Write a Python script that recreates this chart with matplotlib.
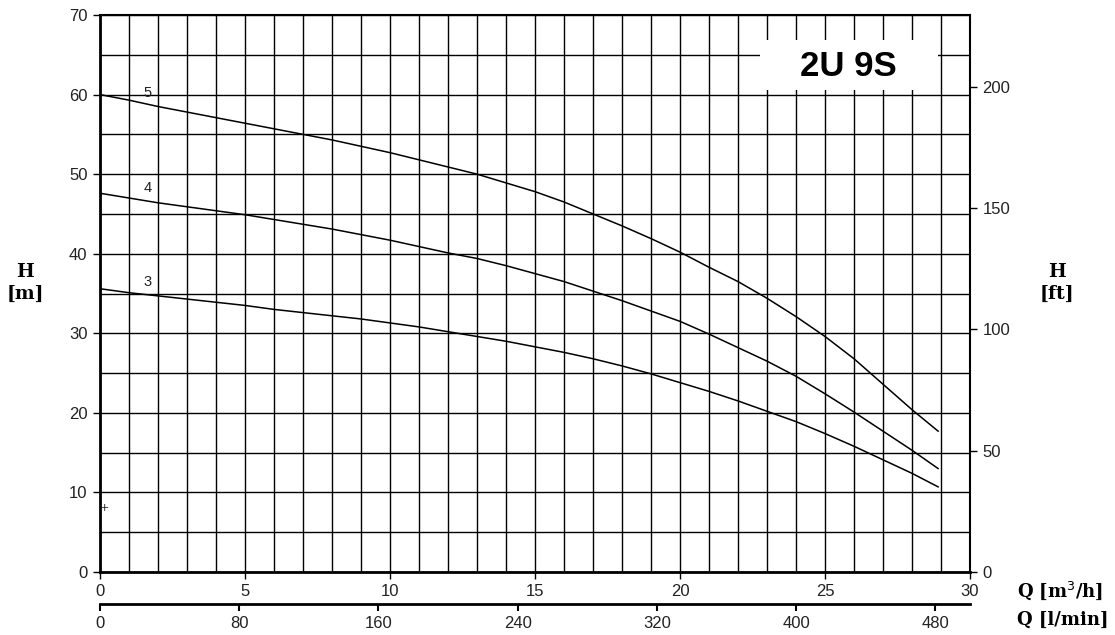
#!/usr/bin/env python3
"""Pump performance curves for 2U 9S (H vs Q), with ft and l/min axes."""

import matplotlib
matplotlib.use('Agg')
import matplotlib.pyplot as plt
from matplotlib.patches import Rectangle
from matplotlib.ticker import MultipleLocator

# Curve data: Q [m3/h], H [m]
q = list(range(29)) + [28.9]
h5 = [60.0, 59.3, 58.5, 57.8, 57.1, 56.4, 55.7, 55.0, 54.3, 53.5,
      52.7, 51.8, 50.9, 50.0, 48.9, 47.8, 46.5, 45.0, 43.5, 41.9,
      40.2, 38.3, 36.5, 34.4, 32.1, 29.6, 26.8, 23.6, 20.4, 17.7]
h4 = [47.6, 47.0, 46.4, 45.9, 45.4, 44.9, 44.3, 43.7, 43.1, 42.4,
      41.7, 40.9, 40.1, 39.4, 38.5, 37.5, 36.5, 35.3, 34.1, 32.8,
      31.5, 29.9, 28.2, 26.5, 24.6, 22.4, 20.1, 17.7, 15.3, 13.0]
h3 = [35.6, 35.1, 34.7, 34.3, 33.9, 33.5, 33.0, 32.6, 32.2, 31.8,
      31.3, 30.8, 30.2, 29.6, 29.0, 28.3, 27.6, 26.8, 25.9, 24.9,
      23.8, 22.7, 21.5, 20.2, 18.9, 17.4, 15.8, 14.1, 12.4, 10.7]

curve_names = ['5', '4', '3']
curve_heads = [h5, h4, h3]
label_h = [60.2, 48.2, 36.4]

lmin_ticks = [0, 80, 160, 240, 320, 400, 480]
ft_ticks = [0, 50, 100, 150, 200]
title = '2U 9S'

sans = ['Liberation Sans', 'DejaVu Sans']
serif = ['DejaVu Serif']
tc = '#222222'

fig = plt.figure(figsize=(11.15, 6.35), dpi=100)
ax = fig.add_axes([100 / 1115, 1 - 572 / 635, 870 / 1115, 557 / 635])

ax.set_xlim(0, 30)
ax.set_ylim(0, 70)
ax.xaxis.set_major_locator(MultipleLocator(5))
ax.xaxis.set_minor_locator(MultipleLocator(1))
ax.yaxis.set_major_locator(MultipleLocator(10))
ax.yaxis.set_minor_locator(MultipleLocator(5))
ax.grid(which='both', color='black', linewidth=1.0, zorder=0)
ax.set_axisbelow(True)
ax.tick_params(which='minor', length=0)
ax.tick_params(which='major', direction='out', length=5, width=1,
               labelsize=12, labelcolor=tc, pad=4)
for lbl in ax.get_xticklabels() + ax.get_yticklabels():
    lbl.set_family(sans)

ax.spines['left'].set_linewidth(2.0)
ax.spines['bottom'].set_linewidth(2.0)
ax.spines['top'].set_linewidth(1.5)
ax.spines['right'].set_linewidth(1.5)

# Curves and their labels
for name, h, lh in zip(curve_names, curve_heads, label_h):
    ax.plot(q, h, color='black', linewidth=1.1, zorder=3)
    ax.text(1.65, lh, name, fontsize=10.5, family=sans, color=tc,
            ha='center', va='center', zorder=4)

ax.text(0.14, 8, '+', fontsize=8, ha='center', va='center', color=tc)

# Model name on a white patch over the grid
ax.add_patch(Rectangle((22.76, 60.6), 6.14, 6.3, facecolor='white',
                       edgecolor='none', zorder=2))
ax.text(25.8, 63.5, title, fontsize=25, fontweight='bold', family=sans,
        ha='center', va='center', zorder=4)

# Right axis in feet
axr = ax.twinx()
axr.set_ylim(0, 70 / 0.3048)
axr.set_yticks(ft_ticks)
axr.tick_params(direction='out', length=5, width=1, labelsize=12,
                labelcolor=tc, pad=4)
for lbl in axr.get_yticklabels():
    lbl.set_family(sans)
for s in axr.spines.values():
    s.set_visible(False)

# Secondary bottom axis in l/min
sec = ax.secondary_xaxis(-32 / 557, functions=(lambda x: x / 0.06,
                                                lambda l: l * 0.06))
sec.set_xticks(lmin_ticks)
sec.spines['bottom'].set_linewidth(2.0)
sec.tick_params(direction='out', length=5, width=1.5, labelsize=12,
                labelcolor=tc, pad=4)
for lbl in sec.get_xticklabels():
    lbl.set_family(sans)

# Axis titles
fig.text(25 / 1115, 1 - 283 / 635, 'H\n[m]', family=serif, fontweight='bold',
         fontsize=13.5, ha='center', va='center', linespacing=1.3)
fig.text(1057 / 1115, 1 - 283 / 635, 'H\n[ft]', family=serif,
         fontweight='bold', fontsize=13.5, ha='center', va='center',
         linespacing=1.3)
fig.text(1017 / 1115, 1 - 591 / 635, 'Q [m$^3$/h]', family=serif,
         fontweight='bold', fontsize=13, ha='left', va='center')
fig.text(1017 / 1115, 1 - 620 / 635, 'Q [l/min]', family=serif,
         fontweight='bold', fontsize=13, ha='left', va='center')

fig.savefig('out.png', dpi=100)
